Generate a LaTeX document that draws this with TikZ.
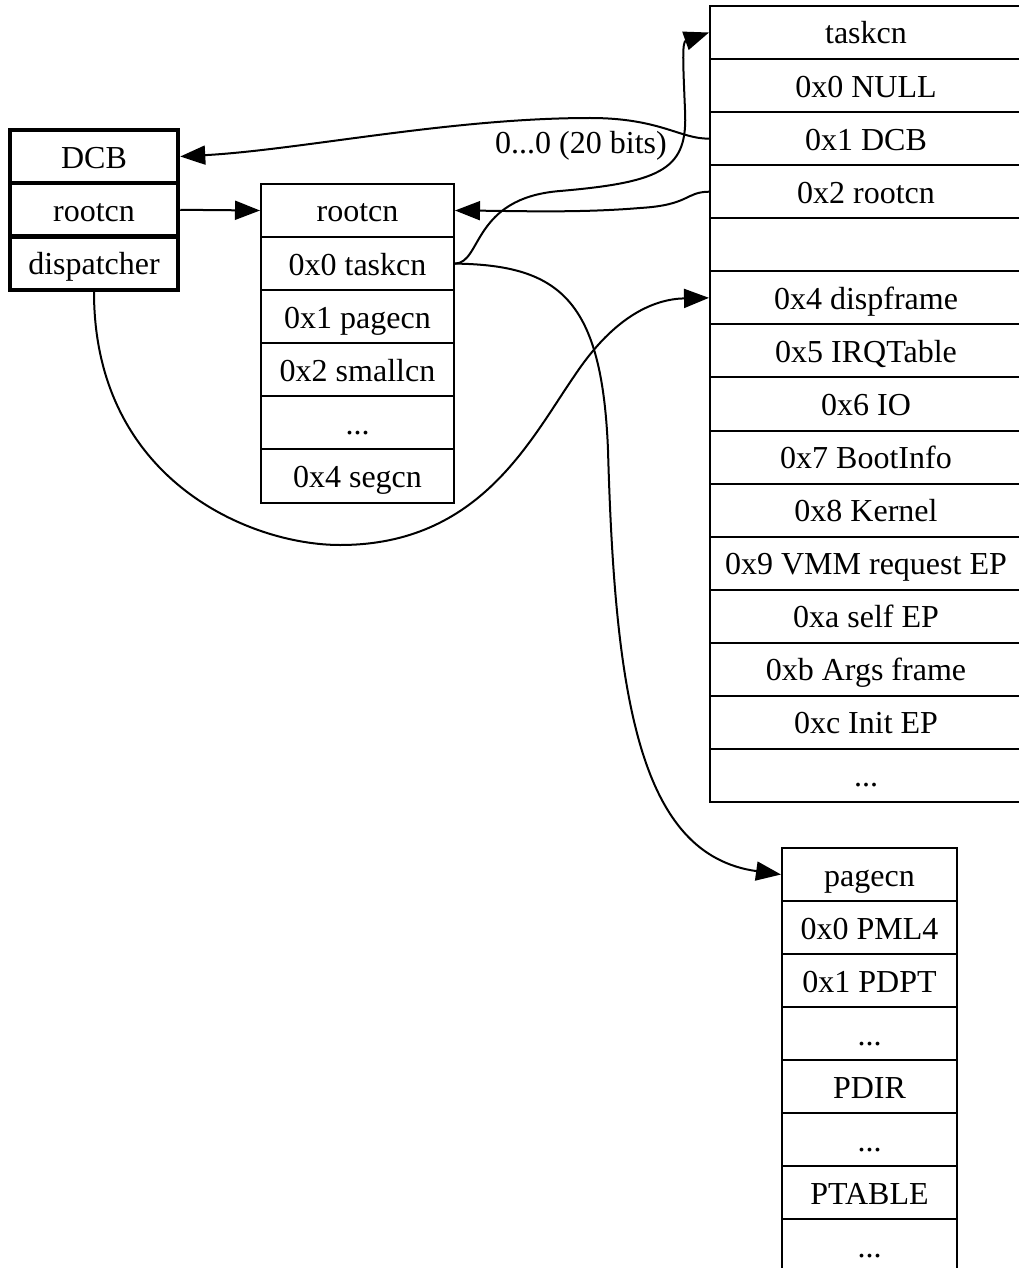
\documentclass[tikz,border=0pt]{standalone}
\usepackage{fontspec}
\setmainfont{Liberation Serif}
\usetikzlibrary{arrows.meta}
\newcommand\dotsrow{...}
\begin{document}
\begin{tikzpicture}[x=1pt,y=-1pt,
  every node/.style={font=\fontsize{32}{36}\selectfont, inner sep=0pt},
  cell/.style={draw, line width=2pt, minimum height=53.1pt, text height=23pt, text depth=0pt},
  thickcell/.style={draw, line width=4.5pt, minimum height=53.3pt, minimum width=168pt, text height=23pt, text depth=0pt},
  conn/.style={line width=2pt, -{Triangle[length=25pt,width=19pt]}}]
\clip (0,0) rectangle (1019,1268);
% DCB
\node[thickcell] (d0) at (94,156.5) {DCB};
\node[thickcell] (d1) at (94,209.8) {rootcn};
\node[thickcell] (d2) at (94,263.1) {dispatcher};
% rootcn box
\foreach \i/\t in {0/rootcn,1/0x0 taskcn,2/0x1 pagecn,3/0x2 smallcn,4/\dotsrow,5/0x4 segcn}
  \node[cell, minimum width=193pt] (r\i) at (357.5,{210.5+53.1*\i}) {\t};
% taskcn box
\foreach \i/\t in {0/taskcn,1/0x0 NULL,2/0x1 DCB,3/0x2 rootcn,4/{},5/0x4 dispframe,6/0x5 IRQTable,7/0x6 IO,8/0x7 BootInfo,9/0x8 Kernel,10/0x9 VMM request EP,11/0xa self EP,12/0xb Args frame,13/0xc Init EP,14/\dotsrow}
  \node[cell, minimum width=312pt] (t\i) at (866,{32.5+53.07*\i}) {\t};
% pagecn box
\foreach \i/\t in {0/pagecn,1/0x0 PML4,2/0x1 PDPT,3/\dotsrow,4/PDIR,5/\dotsrow,6/PTABLE,7/\dotsrow}
  \node[cell, minimum width=175pt] (p\i) at (869.5,{874.5+53*\i}) {\t};
% connectors
\draw[conn] (t2.west) .. controls (680,139) and (660,118) .. (590,118)
  .. controls (450,118) and (300,150) .. (d0.east);
\node[text height=23pt, text depth=0pt] (lbl) at (581,142) {0...0 (20 bits)};
\draw[conn] (d1.east) -- (r0.west);
\draw[conn] (t3.west) .. controls (685,192) and (690,205) .. (640,208)
  .. controls (580,213) and (520,211) .. (r0.east);
\draw[conn] (r1.east) .. controls (482,263) and (472,198) .. (560,191)
  .. controls (665,182) and (688,168) .. (685,110)
  .. controls (683,62) and (682,42) .. (t0.west);
\draw[conn] (r1.east) .. controls (560,265) and (602,300) .. (608,450)
  .. controls (615,700) and (640,855) .. (p0.west);
\draw[conn] (d2.south) .. controls (94,480) and (250,545) .. (340,545)
  .. controls (480,545) and (530,440) .. (575,375)
  .. controls (615,315) and (655,299) .. (t5.west);
\end{tikzpicture}
\end{document}
